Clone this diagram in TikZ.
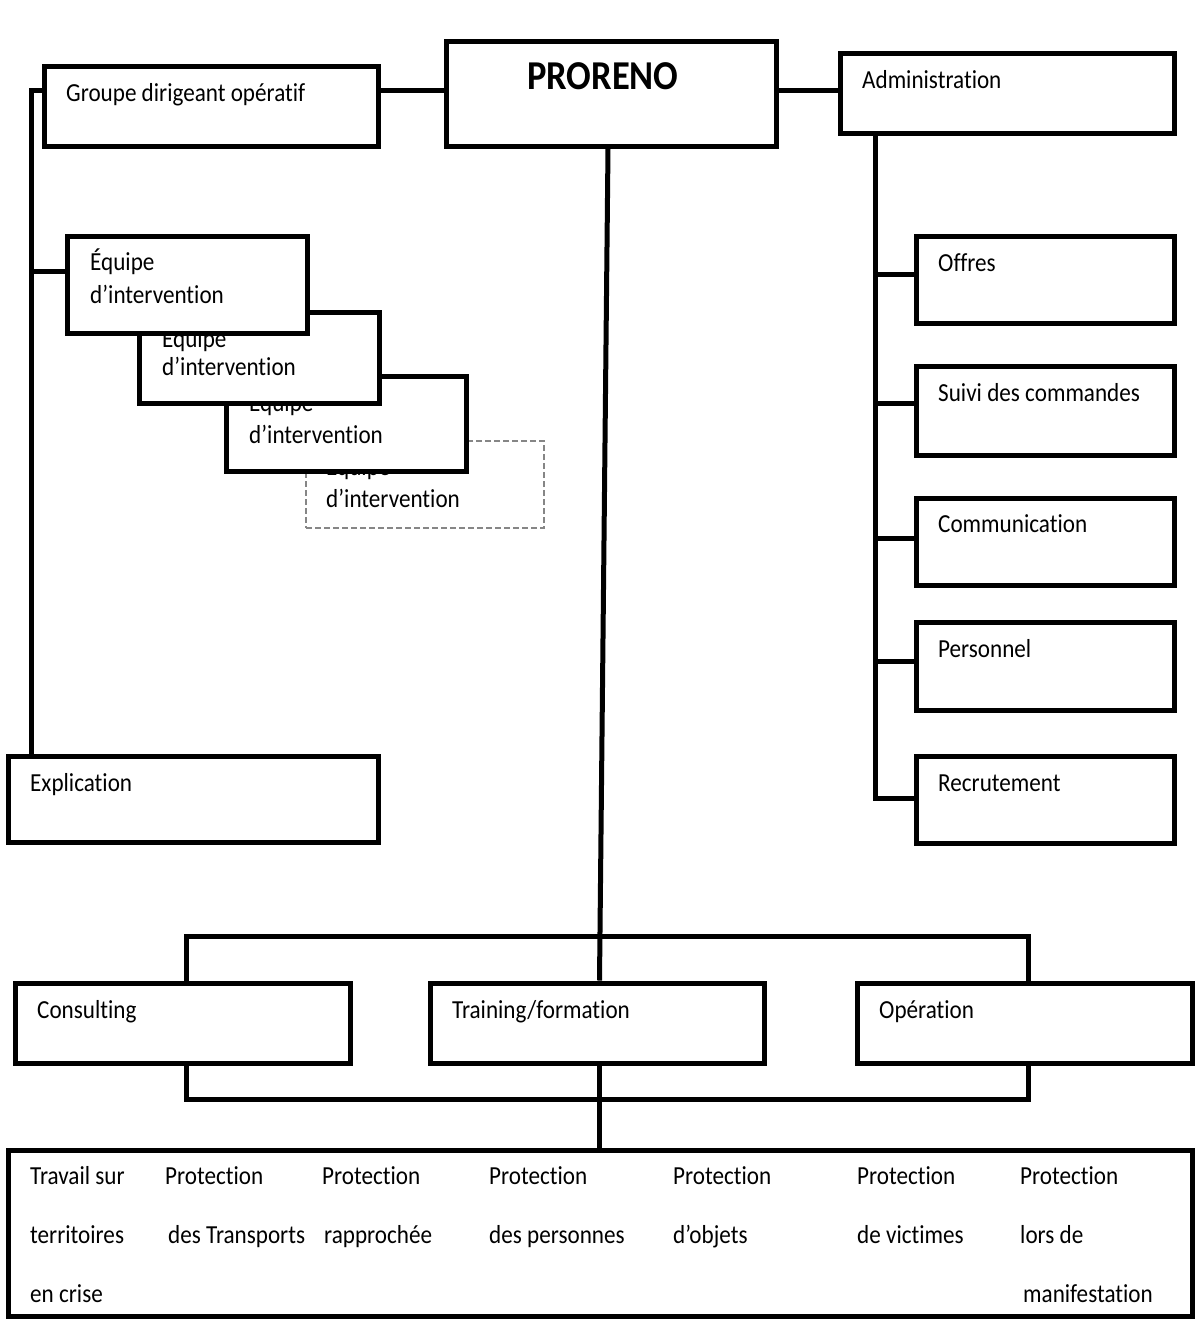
\documentclass[tikz,border=0pt]{standalone}
\usepackage{fontspec}
\setmainfont{Carlito}[FakeStretch=0.89, Ligatures=NoCommon]
\usetikzlibrary{positioning, calc}

\begin{document}
\begin{tikzpicture}[x=1pt, y=-1pt,
  box/.style={draw, line width=5pt, fill=white, inner sep=0pt},
  ghostbox/.style={draw=gray!95, line width=1.8pt, dash pattern=on 6pt off 3pt, fill=white, inner sep=0pt},
  conn/.style={line width=5pt},
  txt/.style={anchor=base west, inner sep=0pt, font=\fontsize{26}{30}\selectfont}]

% Manually size the picture
\useasboundingbox (0,0) rectangle (1200,1320);

% Helper points for the lines
\coordinate (lspine) at (31,90);
\coordinate (rspine) at (875,133);
\coordinate (ctop) at (608,146);
\coordinate (cbot) at (599.5,0);
\coordinate (bl) at (186,936);
\coordinate (br) at (1028,936);
\coordinate (bbl) at (186,1099);
\coordinate (bbr) at (1028,1099);

% Top row
\node[box, minimum width=330pt, minimum height=105pt] (proreno) at (611,93.5) {};
\node[box, minimum width=334pt, minimum height=80pt] (groupe) at (211,106) {};
\node[box, minimum width=334pt, minimum height=80pt] (admin) at (1007,93) {};

% Left column
\node[box, minimum width=370pt, minimum height=86pt] (expl) at (193,799) {};

% Right column
\node[box, minimum width=258pt, minimum height=87pt] (offres) at (1045,279.5) {};
\node[box, minimum width=258pt, minimum height=89pt] (suivi) at (1045,410.5) {};
\node[box, minimum width=258pt, minimum height=87pt] (comm) at (1045,541.5) {};
\node[box, minimum width=258pt, minimum height=88pt] (personnel) at (1045,666) {};
\node[box, minimum width=258pt, minimum height=87pt] (recrut) at (1045,799.5) {};

% Lower row
\node[box, minimum width=335pt, minimum height=80pt] (consult) at (182.5,1023) {};
\node[box, minimum width=334pt, minimum height=80pt] (training) at (597,1023) {};
\node[box, minimum width=335pt, minimum height=80pt] (oper) at (1024.5,1023) {};
\node[box, minimum width=1184pt, minimum height=166pt] (missions) at (600,1233) {};

% Lines
\draw[conn] (groupe.east |- lspine) -- (proreno.west |- lspine);
\draw[conn] (proreno.east |- lspine) -- (admin.west |- lspine);
\draw[conn] (groupe.west |- lspine) -- (lspine) -- (lspine |- expl.north);
\draw[conn] (admin.south -| rspine) |- ([yshift=1.5pt]recrut.west);
\foreach \b/\s in {offres/5.5, suivi/7.5, comm/3.5, personnel/5}
  \draw[conn] ([yshift=\s pt]\b.west) -- ([yshift=\s pt]\b.west -| rspine);
\draw[conn] (proreno.south -| ctop) -- (training.north -| cbot);
\draw[conn] (consult.north -| bl) -- (bl) -- (br) -- (oper.north -| br);
\draw[conn] (consult.south -| bbl) -- (bbl) -- (bbr) -- (oper.south -| bbr);
\draw[conn] (training.south -| cbot) -- (missions.north -| cbot);

% Stacked teams (back to front)
\node[ghostbox, minimum width=238pt, minimum height=87pt] (eq4) at (425,484.5) {};
\node[txt] (eq4a) at (326,475) {Équipe};
\node[txt] (eq4b) at (326,507) {d’intervention};
\node[box, minimum width=240pt, minimum height=95pt] (eq3) at (346,423.5) {};
\node[txt] (eq3a) at (249,411) {Équipe};
\node[txt] (eq3b) at (249,443) {d’intervention};
\node[box, minimum width=240pt, minimum height=91pt] (eq2) at (259,357.5) {};
\node[txt] (eq2a) at (162,347) {Équipe};
\node[txt] (eq2b) at (162,375) {d’intervention};
\node[box, minimum width=240pt, minimum height=97pt] (eq1) at (187,284.5) {};
\node[txt] (eq1a) at (90,270) {Équipe};
\node[txt] (eq1b) at (90,303) {d’intervention};
\draw[conn] ([yshift=13.5pt]eq1.west -| lspine) -- ([yshift=13.5pt]eq1.west);

% Labels
\node[txt, font=\fontsize{41}{46}\selectfont\bfseries] (proreno-t) at (527,89.3) {PRORENO};
\node[txt] (groupe-t) at (66,101) {Groupe dirigeant opératif};
\node[txt] (admin-t) at (862,88) {Administration};
\node[txt] (expl-t) at (30,791) {Explication};
\node[txt] (offres-t) at (938,271) {Offres};
\node[txt] (suivi-t) at (938,401) {Suivi des commandes};
\node[txt] (comm-t) at (938,532) {Communication};
\node[txt] (personnel-t) at (938,657) {Personnel};
\node[txt] (recrut-t) at (938,791) {Recrutement};
\node[txt] (consult-t) at (37,1018) {Consulting};
\node[txt] (training-t) at (452,1018) {Training/formation};
\node[txt] (oper-t) at (879,1018) {Opération};

% Missions
\node[txt] (m1a) at (30,1184) {Travail sur};
\node[txt] (m1b) at (30,1243) {territoires};
\node[txt] (m1c) at (30,1302) {en crise};
\node[txt] (m2a) at (165,1184) {Protection};
\node[txt] (m2b) at (168,1243) {des Transports};
\node[txt] (m3a) at (322,1184) {Protection};
\node[txt] (m3b) at (324,1243) {rapprochée};
\node[txt] (m4a) at (489,1184) {Protection};
\node[txt] (m4b) at (489,1243) {des personnes};
\node[txt] (m5a) at (673,1184) {Protection};
\node[txt] (m5b) at (673,1243) {d’objets};
\node[txt] (m6a) at (857,1184) {Protection};
\node[txt] (m6b) at (857,1243) {de victimes};
\node[txt] (m7a) at (1020,1184) {Protection};
\node[txt] (m7b) at (1020,1243) {lors de};
\node[txt] (m7c) at (1023,1302) {manifestation};

\end{tikzpicture}
\end{document}
